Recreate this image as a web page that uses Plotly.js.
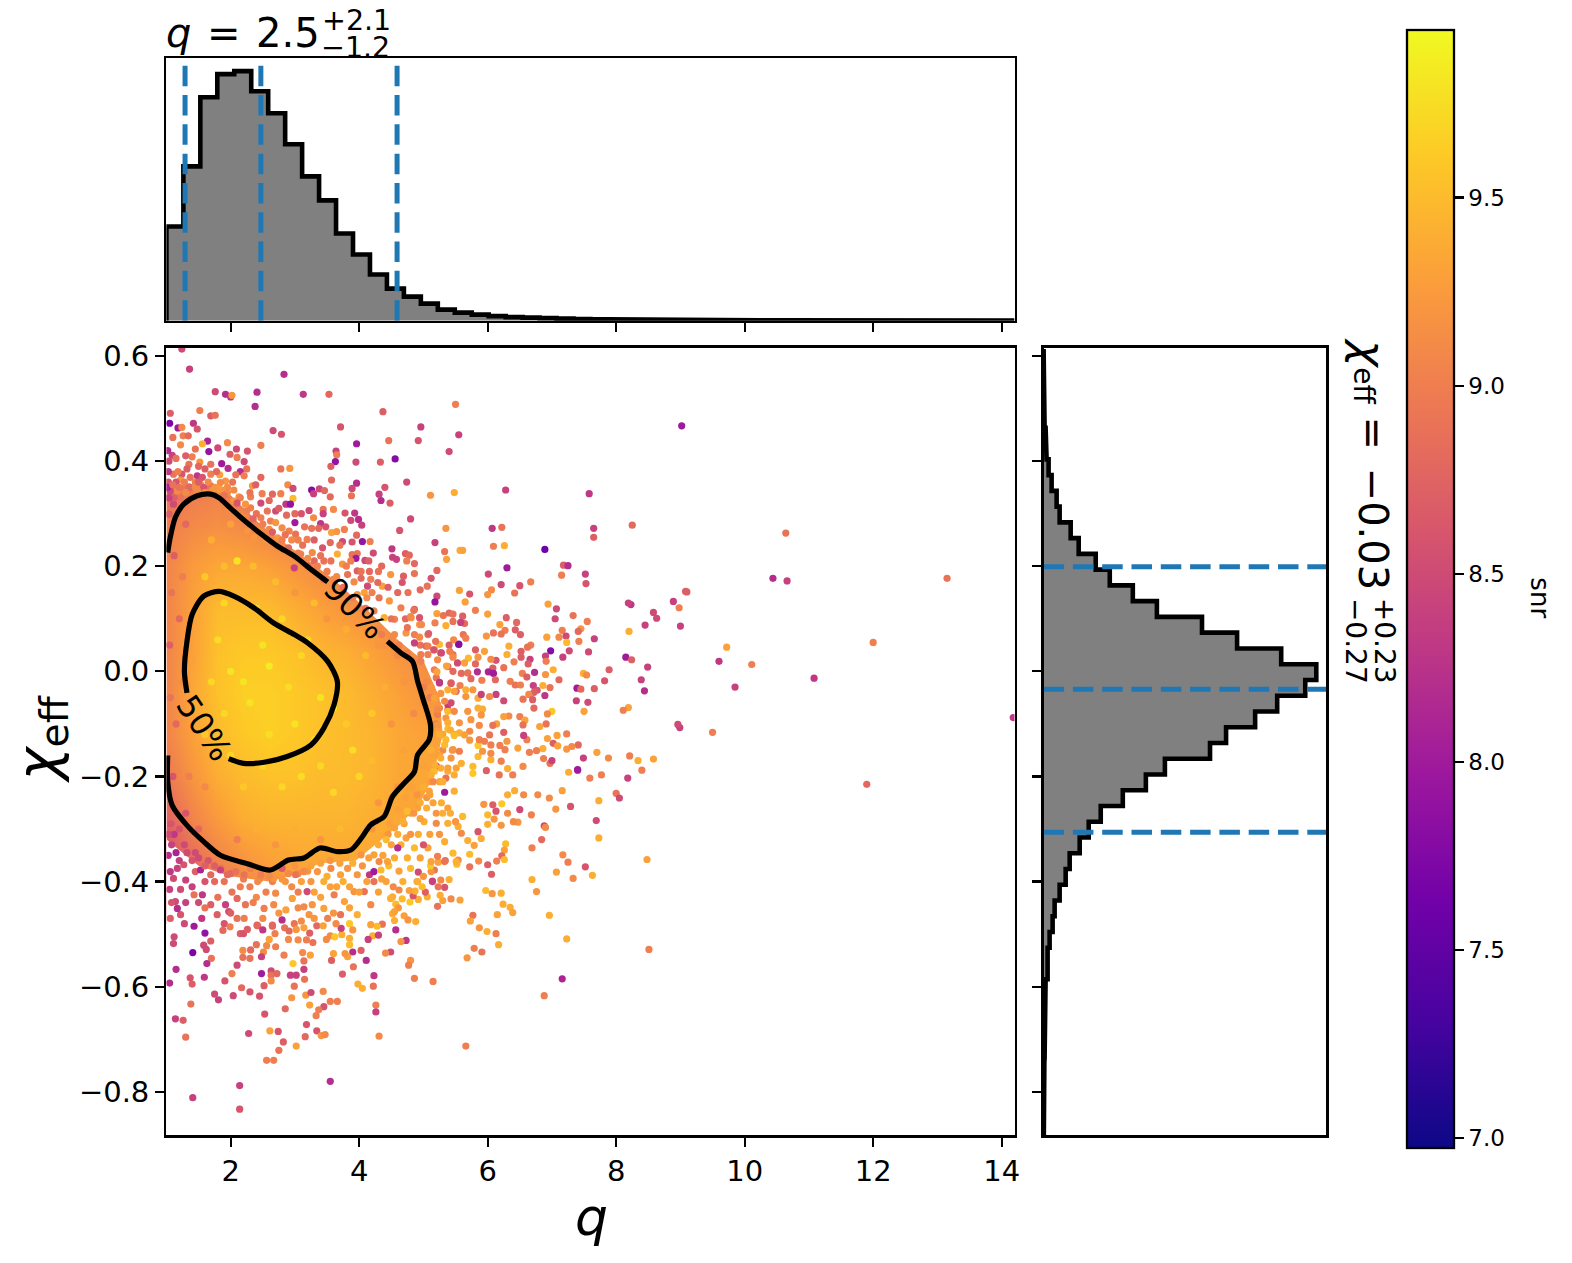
<!DOCTYPE html>
<html><head><meta charset="utf-8">
<script src="https://cdn.plot.ly/plotly-3.0.1.min.js"></script>
<style>html,body{margin:0;padding:0;background:#fff}</style></head>
<body><div id="chart" style="width:1572px;height:1263px"></div>
<script>
// ---- values: [q, chi_eff, snr] ----
const pointsUpperLeft=[[1.24,.613,8.5],[1.36,.575,8.4],[2.83,.565,8.2],[1.76,.532,8.5],[1.92,.527,8.2],[2.0,.522,8.3],[2.02,.525,9.2],[2.41,.531,8.2],[3.13,.527,8.3],[3.53,.527,8.8],[2.38,.504,8.2],[5.5,.508,9.0],[1.06,.491,8.7],[1.52,.496,9.0],[1.69,.486,8.7],[1.76,.487,8.9],[4.37,.494,8.7],[1.05,.472,7.7],[1.42,.472,8.3],[1.18,.463,8.0],[1.24,.464,9.1],[1.48,.461,8.6],[3.71,.465,8.6],[4.96,.465,8.4],[2.66,.458,8.5],[2.79,.451,8.6],[5.55,.45,8.4],[1.26,.448,9.0],[1.1,.445,8.9],[1.34,.448,8.8],[1.64,.438,8.1],[1.56,.433,9.4],[1.95,.435,9.1],[1.22,.431,9.1],[2.47,.43,9.0],[3.96,.433,8.0],[4.46,.439,8.9],[4.92,.439,8.6],[1.45,.423,8.9],[1.66,.418,7.9],[1.8,.425,8.5],[2.09,.423,8.5],[2.26,.419,8.6],[3.64,.419,8.4],[3.65,.412,9.0],[5.4,.418,8.5],[1.09,.411,8.4],[1.4,.408,9.0],[1.99,.413,8.7],[2.1,.407,9.0],[2.21,.399,8.5],[3.63,.399,7.9],[4.56,.404,7.8],[3.95,.398,8.5],[4.33,.398,8.7],[1.52,.398,9.2],[1.35,.394,8.9],[1.69,.394,8.9],[1.86,.395,8.0],[3.56,.39,8.7],[2.78,.385,8.9],[2.92,.386,9.2],[2.25,.385,8.9],[1.96,.386,8.2],[2.15,.38,8.2],[1.11,.375,8.9],[1.24,.375,8.6],[1.48,.372,8.3],[1.69,.375,9.0],[1.83,.374,9.3],[2.21,.372,9.0],[2.08,.374,8.9],[2.47,.369,8.8],[1.22,.364,9.2],[1.37,.369,8.9],[1.56,.369,8.6],[3.57,.364,8.8],[4.74,.36,8.5],[3.96,.358,8.2],[1.92,.362,9.2]];
const pointsUpperMid=[[4.4,.35,8.6],[2.89,.355,9.1],[2.97,.348,8.5],[2.34,.353,9.2],[2.39,.355,8.7],[1.06,.343,8.5],[1.35,.351,8.8],[1.69,.353,8.9],[1.83,.346,9.3],[3.26,.345,7.8],[3.38,.347,8.5],[3.46,.344,8.8],[3.89,.348,8.5],[3.29,.338,8.4],[3.88,.334,8.9],[3.55,.332,8.8],[4.31,.337,8.4],[5.11,.335,9.2],[5.48,.34,9.4],[4.34,.325,8.2],[4.48,.32,8.7],[2.65,.337,8.8],[2.78,.338,9.0],[2.97,.329,9.5],[2.86,.318,8.3],[2.93,.318,7.9],[2.49,.338,9.0],[2.13,.332,9.2],[2.31,.332,9.0],[2.47,.32,8.5],[3.22,.306,8.5],[3.44,.308,8.9],[3.6,.308,9.1],[3.29,.292,9.1],[3.44,.3,8.4],[3.78,.301,8.6],[3.93,.301,8.3],[2.87,.297,8.8],[3.0,.283,8.0],[3.87,.287,8.5],[3.99,.289,8.2],[4.04,.278,8.4],[4.8,.29,8.5],[5.35,.272,9.2],[3.4,.281,8.3],[3.26,.272,8.9],[3.37,.272,8.8],[3.48,.275,8.6],[3.57,.264,9.3],[3.65,.266,9.2],[3.77,.27,9.0],[4.63,.268,8.6],[3.96,.259,8.8],[3.74,.247,8.5],[3.89,.246,8.6],[4.05,.247,7.9],[4.17,.247,9.0],[5.18,.245,8.4],[3.43,.235,8.6],[4.51,.233,8.3],[5.33,.228,8.9],[5.36,.213,9.3],[5.57,.23,9.4],[3.66,.223,9.4],[3.89,.222,8.9],[3.97,.224,8.9],[4.09,.211,8.5],[3.95,.215,8.0],[4.52,.217,8.4],[4.58,.213,8.4],[4.72,.224,8.7],[4.78,.221,8.8],[4.86,.205,8.8],[4.74,.21,9.0],[4.86,.186,8.9],[5.21,.192,8.8],[5.12,.177,8.6],[4.69,.181,8.7],[5.06,.162,8.9],[4.95,.155,8.8],[4.76,.15,8.9],[4.67,.169,8.6],[5.21,.143,8.5],[5.18,.132,7.9],[5.56,.154,9.3]];
const pointsContourTop=[[2.47,.292,9.0],[2.62,.286,9.0],[2.7,.283,9.2],[2.57,.305,8.9],[2.7,.305,8.5],[2.8,.273,9.1],[2.91,.267,9.0],[3.01,.261,8.9],[3.19,.251,9.0],[3.09,.223,9.0],[3.27,.226,9.1],[3.45,.21,8.9],[3.3,.21,8.8],[2.99,.197,8.4],[2.73,.254,9.2],[2.31,.311,9.0],[2.21,.299,9.1],[2.05,.324,9.2],[2.23,.318,9.2],[2.47,.273,9.1],[2.36,.254,9.2],[2.26,.267,9.2],[1.95,.305,9.1],[1.43,.337,9.0],[1.22,.331,8.9],[1.11,.318,8.5],[1.04,.299,8.7],[1.53,.356,9.1],[1.76,.35,9.2],[1.84,.359,9.1],[1.95,.35,9.1],[1.58,.35,8.6],[1.37,.35,8.8],[1.17,.343,9.1],[3.56,.21,8.9],[3.74,.204,9.2],[3.87,.21,9.0],[3.97,.191,8.7],[4.16,.19,8.8],[3.82,.184,8.9],[4.03,.177,8.8],[4.18,.175,9.0],[4.36,.162,9.3],[4.49,.184,9.2],[4.13,.162,8.5],[4.29,.169,8.8],[4.08,.15,9.3],[4.31,.14,8.9],[4.47,.134,9.2],[3.97,.146,9.2],[4.23,.115,9.0],[4.55,.099,9.0],[4.39,.102,9.4],[4.81,.102,9.2],[4.94,.089,9.2],[4.65,.121,9.0],[4.86,.118,8.7],[5.07,.07,9.0],[4.86,.07,9.0],[4.55,.07,9.1],[4.73,.073,9.2],[4.3,.08,9.1],[4.4,.05,9.2],[4.5,.1,8.9],[4.62,.05,9.0],[4.72,.1,8.8],[4.85,.02,9.1],[4.95,.05,8.9],[4.6,.15,8.8],[4.45,.16,8.7],[4.3,.19,8.9],[4.15,.21,8.7],[4.03,.19,8.9],[4.12,.14,9.1],[4.2,.15,9.0],[3.92,.17,9.1],[3.8,.2,9.0],[3.65,.18,9.1],[3.5,.19,9.0],[3.4,.22,8.9],[3.2,.215,9.1],[3.12,.24,8.9],[3.05,.25,9.0],[2.95,.25,9.1],[2.85,.26,8.9],[2.6,.27,9.1],[2.55,.25,9.2],[3.7,.24,8.9],[3.55,.245,8.8],[3.3,.25,8.7],[4.35,.2,8.8],[4.22,.225,8.5],[3.0,.3,8.8],[3.15,.275,8.9],[2.75,.31,8.7],[2.4,.3,8.9],[2.15,.33,9.0],[2.05,.345,9.1],[2.3,.34,8.9],[2.6,.325,8.8],[3.1,.3,8.6]];
const pointsTopLeftEdge=[[1.03,.36,8.6],[1.03,.38,8.3],[1.15,.36,8.6],[1.2,.35,8.9],[1.28,.36,9.0],[1.45,.36,9.0],[1.48,.345,9.1],[1.6,.34,9.2],[1.65,.36,9.1],[1.72,.345,9.2],[1.88,.345,9.2],[1.95,.34,9.1],[2.03,.36,8.9],[1.3,.34,9.1],[1.12,.33,8.7],[1.04,.33,8.4],[1.15,.405,8.9],[1.3,.41,8.7],[1.5,.39,8.8],[1.6,.385,8.7],[1.78,.38,8.8],[1.45,.35,9.1],[1.02,.35,8.1],[1.02,.42,8.2],[1.04,.4,8.5],[1.1,.355,8.9],[1.18,.38,9.0],[1.32,.385,8.7]];
const pointsOutlineEdge=[[1.5,.36,8.7],[1.9,.335,8.9],[2.1,.32,8.6],[2.25,.305,9.0],[2.35,.29,8.8],[2.5,.28,9.0],[2.65,.265,8.7],[2.8,.25,9.0],[2.9,.235,8.8],[3.05,.225,9.0],[3.2,.2,8.8],[3.35,.2,9.0],[3.45,.175,8.9],[3.6,.175,9.1],[3.75,.16,8.9],[3.9,.14,9.0],[4.0,.12,9.1],[4.1,.12,8.9],[4.2,.09,9.2],[4.35,.07,9.0],[4.5,.06,9.1],[4.6,.03,9.1],[4.75,.035,9.0],[4.9,0,9.2],[5.0,-.03,9.0],[5.12,-.03,9.2],[5.25,-.07,9.1],[5.3,-.12,9.3],[5.3,-.15,9.1],[5.2,-.18,9.3],[5.25,-.21,9.3],[5.1,-.21,9.3],[5.05,-.24,9.2],[4.95,-.25,9.4],[4.8,-.27,9.3],[4.7,-.29,9.3],[4.6,-.31,9.4],[4.45,-.31,9.2],[4.3,-.33,9.4],[4.15,-.355,9.3],[4.05,-.37,9.2],[3.9,-.365,9.4],[3.7,-.365,9.3],[3.55,-.36,9.2],[3.4,-.365,9.3],[3.2,-.38,9.2],[3.05,-.385,9.1],[2.8,-.395,9.2],[2.65,-.4,9.0],[2.45,-.395,9.1],[2.2,-.395,9.0],[2.0,-.385,8.8],[1.85,-.375,8.9],[1.65,-.36,8.6],[1.45,-.345,8.5],[1.28,-.33,8.5],[1.12,-.31,8.3],[1.03,-.31,8.5],[1.07,-.29,8.6],[1.2,-.3,8.6]];
const pointsRightUpper=[[6.28,.345,8.4],[7.58,.338,8.3],[8.25,.278,8.8],[7.65,.272,8.4],[7.65,.255,8.7],[6.07,.272,8.3],[6.22,.274,8.9],[5.61,.23,9.3],[6.09,.238,9.0],[6.26,.239,9.4],[6.89,.232,7.6],[6.3,.197,8.0],[6.01,.185,8.5],[7.18,.202,8.7],[7.25,.201,8.2],[7.15,.183,9.0],[7.52,.185,8.4],[7.53,.167,8.6],[6.67,.17,9.0],[6.21,.165,8.5],[6.5,.163,8.6],[6.42,.149,8.9],[9.1,.151,8.7],[6.06,.155,9.1],[6.0,.146,9.2],[5.72,.147,8.6],[5.65,.132,9.3],[6.94,.128,9.3],[7.07,.119,8.5],[8.23,.127,8.3],[8.98,.121,9.0],[5.81,.116,9.0],[6.0,.109,9.3],[7.33,.106,8.9],[7.05,.1,8.5],[7.55,.095,9.0],[8.63,.101,8.5],[6.29,.102,8.7],[6.45,.093,8.8],[6.19,.089,9.3],[6.43,.079,8.7],[6.27,.078,9.0],[8.45,.088,8.4],[9.0,.086,8.4],[7.16,.078,9.0],[7.45,.081,9.2],[7.41,.076,8.8],[8.2,.076,9.4],[6.09,.073,8.9],[5.98,.067,9.2],[6.21,.071,8.9],[6.51,.07,8.7],[6.92,.065,9.3],[7.11,.065,9.1],[7.22,.067,8.5],[7.66,.062,8.4],[7.42,.057,9.0],[7.23,.055,9.5],[6.33,.048,9.4],[6.67,.05,9.0],[6.62,.046,8.9],[6.98,.039,7.8],[7.27,.039,8.5],[7.57,.037,8.5],[5.95,.038,9.3],[6.52,.038,8.7],[6.3,.032,9.4],[6.9,.029,8.4],[7.17,.027,8.4],[8.15,.027,8.0],[8.24,.022,8.7],[5.81,.041,8.7],[6.52,.027,8.7],[6.66,.023,8.4],[5.85,.027,9.2],[5.7,.025,9.5],[6.13,.021,8.6],[6.05,.023,9.1],[6.91,.019,9.0],[6.41,.018,9.0],[6.63,.014,8.7],[5.81,.014,8.8],[5.53,.016,8.5],[6.25,.007,8.9],[6.08,.006,8.7]];
const pointsRightMid=[[6.73,-.002,8.2],[7.02,.003,9.4],[6.9,-.006,9.2],[7.89,.003,8.7],[7.49,-.004,9.4],[7.54,-.007,9.1],[5.84,-.001,8.2],[6.01,-.001,8.1],[6.09,-.004,8.0],[6.54,-.004,9.0],[6.61,-.011,8.7],[5.91,-.017,9.0],[6.12,-.016,8.8],[6.35,-.019,9.0],[6.43,-.026,8.9],[6.51,-.026,9.0],[7.11,-.016,8.8],[7.82,-.018,8.6],[8.39,-.016,8.4],[6.71,-.027,8.4],[6.86,-.027,9.4],[6.97,-.031,8.9],[7.39,-.032,8.0],[7.45,-.034,8.8],[7.66,-.033,8.7],[8.44,-.037,8.2],[6.77,-.036,8.6],[6.89,-.046,8.3],[6.72,-.04,8.7],[6.64,-.044,9.1],[6.55,-.053,8.9],[6.7,-.054,8.7],[6.13,-.044,8.4],[6.03,-.048,9.1],[6.25,-.056,8.5],[7.38,-.056,8.4],[7.56,-.059,8.5],[6.72,-.07,8.8],[8.19,-.069,9.3],[8.11,-.074,9.0],[7.5,-.076,9.3],[7.0,-.076,9.6],[6.93,-.081,9.1],[6.5,-.086,9.0],[6.33,-.085,9.1],[6.25,-.086,9.3],[8.99,-.107,8.4],[6.58,-.093,9.3],[6.55,-.102,8.9],[6.91,-.1,8.9],[6.81,-.105,9.3],[6.14,-.1,9.3],[6.08,-.103,8.9],[6.25,-.116,8.7],[6.3,-.133,9.2],[6.61,-.13,9.0],[6.56,-.122,8.4],[6.93,-.128,9.3],[7.08,-.122,9.3],[7.23,-.119,9.0],[7.02,-.137,8.7],[7.09,-.142,9.3],[7.41,-.14,8.8],[7.31,-.143,9.1],[7.23,-.148,9.2],[6.47,-.146,9.3],[6.86,-.147,9.4],[6.76,-.151,9.0],[6.65,-.154,9.0],[7.7,-.154,9.3],[7.49,-.165,8.4],[7.88,-.165,9.1],[8.21,-.161,9.0],[8.34,-.17,9.4],[8.58,-.167,9.3],[8.4,-.188,9.0],[6.87,-.166,9.0],[6.97,-.175,8.9],[7.0,-.17,8.4],[7.4,-.188,8.1],[7.26,-.192,9.4],[7.59,-.203,9.0],[7.77,-.197,9.0],[8.18,-.203,8.4]];
const pointsFarOut=[[9.02,.467,8.0],[10.64,.263,8.9],[10.44,.177,8.2],[10.66,.172,8.4],[13.15,.177,8.9],[12.0,.055,9.0],[11.08,-.013,8.3],[9.72,.046,9.3],[9.6,.019,8.3],[10.11,.013,9.0],[9.85,-.03,8.4],[8.96,-.101,8.5],[9.5,-.116,9.0],[11.9,-.215,8.8],[14.18,-.088,8.3],[8.19,.13,8.4],[8.58,.112,8.5],[9.08,.152,8.7],[8.89,.133,8.4],[8.49,.008,8.4]];
const pointsLowerRight=[[7.4,-.187,8.0],[7.16,-.227,9.3],[8.0,-.232,8.9],[8.05,-.241,8.5],[7.73,-.246,9.4],[7.29,-.257,8.6],[6.96,-.241,9.1],[7.06,-.262,9.2],[6.78,-.235,9.1],[7.69,-.284,8.5],[7.73,-.317,9.4],[6.5,-.263,8.5],[6.68,-.273,9.0],[6.88,-.294,8.5],[6.9,-.297,9.1],[6.84,-.32,8.8],[6.47,-.287,9.2],[6.4,-.286,9.1],[6.69,-.336,9.0],[6.28,-.328,9.5],[6.26,-.34,9.3],[7.17,-.349,9.1],[7.25,-.363,9.0],[7.52,-.372,8.6],[7.07,-.382,9.3],[7.63,-.388,9.4],[7.33,-.394,9.1],[8.48,-.358,9.3],[6.69,-.396,9.4],[6.76,-.419,9.2],[6.22,-.351,8.8],[6.26,-.358,9.5],[6.14,-.361,9.0],[6.0,-.368,8.7],[5.86,-.361,9.1],[5.72,-.372,8.9],[6.06,-.386,8.7],[5.4,-.396,9.4],[5.97,-.417,9.5],[6.07,-.423,9.2],[6.21,-.422,9.4],[6.24,-.443,9.4],[6.35,-.449,9.4],[6.39,-.459,9.3],[6.96,-.464,9.4],[6.15,-.463,9.3],[5.77,-.464,8.9],[5.73,-.475,9.3],[5.87,-.488,9.2],[5.99,-.495,9.4],[6.13,-.499,9.0],[6.17,-.52,9.4],[7.23,-.509,9.4],[5.79,-.527,9.0],[5.91,-.534,8.9],[5.68,-.545,9.2],[8.51,-.529,9.0],[7.16,-.585,8.1],[6.88,-.617,9.0],[5.15,-.59,9.0],[4.86,-.584,9.0],[4.8,-.55,9.2],[4.77,-.559,9.0],[5.66,-.713,9.0],[4.52,-.461,9.4],[4.7,-.465,9.3],[4.76,-.473,9.2],[4.88,-.476,9.4],[4.55,-.474,9.4],[4.36,-.481,8.9],[4.57,-.492,8.2],[4.73,-.512,8.3],[4.65,-.514,9.2],[4.49,-.534,8.5],[4.41,-.536,9.1]];
const pointsFringeLowerRight=[[5.22,-.447,8.9],[5.43,-.433,9.1],[5.57,-.435,9.3],[5.3,-.436,9.3],[5.26,-.426,9.4],[5.06,-.429,9.4],[4.92,-.434,9.4],[4.79,-.439,9.6],[4.67,-.433,9.5],[4.57,-.443,9.5],[4.52,-.429,9.4],[4.61,-.45,9.2],[5.03,-.42,8.7],[4.84,-.427,8.6],[4.87,-.418,9.4],[4.78,-.417,9.3],[4.62,-.416,9.1],[4.68,-.4,9.4],[4.9,-.4,9.3],[5.14,-.399,8.6],[5.33,-.411,8.6],[5.23,-.41,8.9],[5.27,-.397,9.1],[4.92,-.382,8.5],[5.0,-.39,9.2],[5.17,-.378,8.9],[5.12,-.381,9.2],[5.11,-.37,9.6],[5.34,-.36,8.8],[5.54,-.359,9.1],[5.52,-.367,9.5],[5.23,-.363,9.3],[5.46,-.346,9.5],[5.72,-.348,9.5],[5.79,-.331,9.3],[5.22,-.352,9.0],[5.12,-.362,9.3],[5.69,-.322,9.4],[5.59,-.308,9.1],[5.85,-.305,8.6],[5.9,-.318,9.4],[5.54,-.295,9.4],[5.61,-.276,9.5],[6.0,-.291,9.4],[6.21,-.293,9.2],[6.0,-.273,9.5],[6.1,-.281,9.2],[6.13,-.266,8.6],[6.31,-.27,9.1],[6.08,-.254,8.7],[6.22,-.252,9.6],[5.94,-.253,9.2],[6.31,-.235,9.4],[6.56,-.235,9.1],[6.42,-.227,9.4],[5.5,-.286,9.2],[5.38,-.289,9.4],[5.07,-.336,9.3],[5.33,-.362,8.9],[5.51,-.362,9.4],[4.73,-.317,9.3],[4.86,-.336,9.5],[5.33,-.324,9.4],[5.2,-.289,9.1],[5.33,-.23,8.0],[5.2,-.181,8.0],[5.38,-.19,9.4],[5.38,-.26,9.3],[5.01,-.286,9.4],[4.91,-.26,9.3],[4.75,-.266,9.5],[4.55,-.298,9.3],[4.6,-.263,9.3],[5.09,-.228,9.3],[5.17,-.19,9.5],[5.27,-.184,9.4],[5.35,-.203,8.9],[5.51,-.184,9.3],[5.48,-.228,9.4],[5.17,-.158,9.3],[5.33,-.14,9.5],[5.48,-.12,9.3],[5.38,-.11,9.5],[5.25,-.12,9.4],[5.35,-.089,9.2],[5.22,-.082,9.0],[5.38,-.073,8.8],[5.22,-.063,9.2],[5.51,-.038,8.8],[5.38,-.063,8.3],[5.25,-.022,8.4],[5.43,-.022,8.9],[5.17,.003,9.0],[5.2,-.012,8.9],[5.38,.009,8.8],[4.96,.019,9.0],[5.04,.048,8.8],[5.17,.041,9.1],[5.27,.035,8.5],[5.46,.032,8.9],[5.55,.052,7.9],[4.86,.054,8.4],[4.45,-.26,9.4],[4.5,-.24,9.3],[4.62,-.23,9.4],[4.72,-.24,9.3],[4.82,-.22,9.3],[4.9,-.235,9.2],[5.0,-.22,9.4],[5.1,-.235,9.3],[5.15,-.25,9.3],[5.05,-.26,9.4],[5.2,-.27,9.2],[4.95,-.28,9.3],[4.85,-.27,9.2],[4.68,-.285,9.4],[4.48,-.29,9.3],[4.38,-.3,9.4],[4.42,-.32,9.5],[4.5,-.33,9.3],[4.65,-.33,9.4],[4.8,-.31,9.2],[4.92,-.31,9.4],[5.0,-.33,8.6],[5.1,-.31,9.3],[5.25,-.31,9.2],[5.3,-.27,9.4],[4.37,-.35,9.3],[4.46,-.37,9.5],[4.55,-.355,9.4],[4.62,-.38,9.3],[4.42,-.4,9.3],[4.8,-.375,9.5],[4.95,-.355,9.3],[4.98,-.41,9.5],[4.53,-.41,9.1],[4.3,-.42,9.3],[4.35,-.395,9.3],[5.05,-.02,9.1],[5.1,-.05,9.0],[5.12,-.09,9.3],[5.2,-.1,9.0],[5.25,-.16,9.3],[5.12,-.15,9.4],[5.15,-.21,9.1],[5.3,-.21,9.4],[5.28,-.25,9.4],[5.42,-.27,9.4],[5.45,-.15,9.2],[5.0,-.18,9.3]];
const pointsFringeRight=[[4.85,.116,8.9],[4.8,.104,9.1],[4.94,.102,8.6],[5.21,.11,9.3],[5.31,.106,8.9],[5.4,.111,8.8],[5.46,.109,8.9],[5.35,.087,9.4],[5.18,.092,9.0],[4.97,.089,9.1],[5.46,.095,8.9],[5.61,.105,8.7],[5.64,.091,8.8],[5.58,.093,8.4],[5.08,.072,8.7],[4.94,.065,9.1],[4.75,.083,8.9],[5.62,.07,8.9],[5.66,.063,9.0],[5.47,.06,9.1],[5.4,.05,8.7],[5.55,.051,7.8],[5.25,.051,9.5],[5.19,.057,8.9],[5.07,.048,9.0],[5.28,.035,8.5],[5.16,.041,8.6],[5.41,.038,9.0],[5.46,.027,9.1],[4.96,.032,9.0],[5.07,.032,9.0],[5.22,.022,9.1],[5.36,.01,9.3],[5.46,0,8.8],[5.59,-.004,8.8],[5.64,.016,9.3],[5.69,-.003,8.9],[5.74,-.014,8.8],[5.57,-.027,9.0],[5.43,-.023,8.7],[5.25,-.021,8.3],[5.21,-.001,9.3],[5.38,-.035,9.4],[5.27,-.042,9.2],[5.17,-.051,9.3],[5.48,-.038,9.3],[5.66,-.035,9.4],[5.77,-.035,9.2],[5.85,-.051,9.4],[5.9,-.044,8.4],[5.66,-.048,9.2],[5.43,-.06,8.5],[5.33,-.057,9.1],[5.22,-.073,9.1],[5.38,-.076,9.5],[5.48,-.076,9.1],[5.69,-.076,9.2],[5.85,-.07,9.4],[5.92,-.072,9.4],[5.9,-.083,9.2],[5.74,-.092,9.2],[5.56,-.098,9.2],[5.87,-.103,9.1],[5.38,-.098,9.4],[5.22,-.102,9.2],[5.42,-.112,9.4],[5.56,-.117,9.4],[5.72,-.114,9.1],[5.48,-.122,9.5],[5.64,-.121,9.3],[5.35,-.13,9.5],[5.72,-.131,9.2],[5.85,-.141,9.6],[5.87,-.13,9.0],[6.03,-.121,8.9],[5.95,-.133,9.0],[6.05,-.14,9.0],[5.46,-.149,9.2],[5.56,-.152,9.0],[5.85,-.162,9.5],[5.77,-.181,9.5],[5.77,-.194,9.6],[5.98,-.189,8.7],[6.18,-.197,8.9],[6.31,-.185,9.4],[6.39,-.197,9.0],[6.05,-.168,9.4],[6.21,-.171,9.0],[6.55,-.181,9.1],[5.92,-.152,9.2],[6.05,-.156,9.1],[6.27,-.149,9.0],[6.19,-.141,9.0],[5.27,-.165,9.4],[5.43,-.165,9.2],[5.59,-.175,9.4],[5.18,-.178,9.4],[5.38,-.184,9.3],[5.12,-.197,9.4],[5.48,-.197,9.4]];
const pointsBelowContour=[[1.06,-.381,8.3],[1.17,-.375,8.4],[1.27,-.368,8.6],[1.11,-.394,8.5],[1.3,-.397,8.4],[1.45,-.381,8.7],[1.53,-.378,8.1],[1.69,-.387,8.8],[1.84,-.378,8.4],[1.95,-.387,8.8],[2.08,-.381,8.9],[2.21,-.387,8.9],[2.31,-.375,9.0],[2.47,-.387,9.0],[2.67,-.394,9.2],[2.8,-.375,8.7],[3.01,-.387,8.9],[3.19,-.419,8.5],[3.14,-.381,9.1],[3.35,-.381,9.2],[3.45,-.4,9.4],[3.56,-.375,9.1],[3.71,-.387,9.3],[3.82,-.375,9.2],[3.97,-.387,9.2],[4.16,-.387,8.3],[4.23,-.381,8.0],[4.34,-.378,9.5],[4.31,-.362,9.1],[4.03,-.349,9.2],[4.23,-.349,9.3],[4.44,-.362,9.3],[4.6,-.336,8.2],[4.75,-.355,9.4],[4.91,-.4,9.4],[5.14,-.4,8.4],[1.14,-.438,8.5],[1.22,-.463,8.6],[1.17,-.451,8.2],[1.43,-.425,8.9],[1.56,-.425,8.3],[1.69,-.444,8.7],[1.92,-.444,8.4],[1.97,-.457,8.5],[2.1,-.432,8.8],[2.23,-.444,8.9],[1.79,-.463,8.7],[2.21,-.47,9.0],[2.41,-.483,8.7],[2.52,-.451,9.0],[2.67,-.444,9.1],[2.7,-.422,9.1],[2.96,-.432,9.3],[2.86,-.454,9.3],[3.14,-.448,9.1],[3.27,-.444,9.2],[3.45,-.451,9.3],[3.61,-.425,9.0],[3.77,-.438,9.3],[3.92,-.419,9.2],[3.97,-.463,9.4],[4.08,-.419,8.9],[4.23,-.4,8.9],[4.18,-.444,9.1],[4.49,-.432,9.4],[4.55,-.457,9.3],[3.71,-.463,8.9],[3.51,-.47,9.0],[3.22,-.463,9.2],[2.99,-.48,8.9],[2.8,-.473,8.2],[2.65,-.485,8.7],[1.06,-.47,8.7],[1.03,-.35,8.2],[1.08,-.33,8.4],[1.15,-.345,8.1],[1.2,-.36,8.4],[1.32,-.345,8.5],[1.4,-.36,8.6],[1.5,-.355,8.5],[1.6,-.37,8.7],[1.75,-.37,8.7],[1.9,-.4,8.9],[1.75,-.4,8.8],[1.6,-.4,8.6],[1.4,-.41,8.4],[1.22,-.415,8.5],[1.05,-.415,8.4],[1.08,-.44,8.6],[1.3,-.44,8.4],[1.5,-.44,8.5],[1.6,-.45,8.9],[1.8,-.43,8.9],[2.02,-.42,8.9],[2.15,-.41,9.0],[2.3,-.41,9.0],[2.42,-.4,9.1],[2.55,-.42,9.0],[2.4,-.43,9.1],[2.6,-.39,9.1],[2.85,-.4,9.2],[2.95,-.41,9.1],[3.05,-.42,9.0],[3.1,-.4,9.3],[3.25,-.4,9.2],[3.3,-.42,9.3],[3.4,-.43,9.3],[3.55,-.41,9.3],[3.65,-.41,9.3],[3.75,-.4,9.4],[3.85,-.41,9.3],[4.0,-.42,9.3],[4.12,-.4,9.3],[3.5,-.39,9.4],[3.25,-.37,9.3],[3.0,-.37,9.2],[2.9,-.385,9.1],[2.35,-.44,9.0],[2.0,-.46,8.7],[2.1,-.47,8.9],[2.5,-.47,9.1],[3.05,-.45,9.1],[3.3,-.47,9.2],[3.6,-.46,9.2],[3.85,-.45,9.3],[3.1,-.475,9.1],[1.28,-.48,8.5],[1.55,-.47,8.3],[1.9,-.48,8.6],[2.75,-.46,9.2]];
const pointsLowerLeft=[[1.43,-.485,8.0],[1.6,-.498,7.9],[1.12,-.505,8.5],[1.11,-.518,8.5],[1.69,-.513,8.7],[1.58,-.521,8.5],[1.62,-.529,8.5],[1.41,-.535,7.7],[1.7,-.546,8.9],[1.63,-.556,8.2],[1.15,-.567,8.2],[1.37,-.583,8.6],[1.4,-.595,8.7],[1.59,-.582,8.3],[1.05,-.593,8.2],[1.91,-.589,8.6],[2.1,-.559,8.5],[2.02,-.575,9.0],[1.75,-.614,8.5],[1.81,-.625,8.4],[2.04,-.617,8.5],[2.17,-.602,8.8],[2.3,-.61,8.6],[2.45,-.618,8.6],[2.52,-.598,8.7],[2.48,-.575,8.0],[2.63,-.57,8.5],[2.63,-.578,8.9],[2.63,-.589,9.1],[2.72,-.575,8.8],[2.93,-.578,8.4],[3.02,-.578,8.4],[3.14,-.567,8.4],[3.15,-.586,8.9],[2.99,-.599,8.9],[2.95,-.621,9.2],[3.17,-.616,9.2],[3.25,-.611,8.5],[3.44,-.609,9.1],[3.23,-.635,9.3],[3.55,-.628,9.0],[3.66,-.628,9.0],[3.45,-.638,8.6],[3.37,-.644,9.0],[3.33,-.655,9.0],[2.85,-.642,8.8],[2.53,-.652,8.6],[1.38,-.633,8.9],[1.14,-.661,8.4],[1.26,-.664,8.7],[1.3,-.696,8.9],[2.28,-.689,8.5],[2.61,-.684,9.3],[2.74,-.685,8.6],[3.18,-.672,8.6],[3.34,-.684,8.6],[3.41,-.693,9.2],[3.47,-.691,9.1],[3.16,-.695,8.8],[2.82,-.705,8.7],[3.02,-.713,9.3],[2.75,-.721,8.9],[2.56,-.74,9.0],[2.67,-.74,9.0],[4.31,-.694,9.1],[4.26,-.635,9.0],[4.26,-.648,8.4],[4.23,-.579,8.3],[4.22,-.599,8.9],[3.74,-.576,8.7],[3.91,-.562,8.9],[4.11,-.55,8.2],[3.98,-.595,9.4],[4.05,-.603,9.4],[3.55,-.78,8.2],[2.14,-.788,8.4],[1.41,-.811,8.4],[2.14,-.833,8.6],[3.02,-.89,8.4]];
const pointsLowerMid=[[4.03,-.531,8.7],[3.9,-.534,8.2],[3.82,-.543,9.3],[3.78,-.537,9.2],[3.57,-.55,8.7],[3.6,-.537,9.3],[3.24,-.54,9.3],[3.14,-.551,8.9],[3.12,-.535,9.1],[2.97,-.556,9.6],[2.83,-.54,9.0],[2.51,-.534,9.1],[2.48,-.543,8.4],[2.3,-.546,8.9],[2.19,-.544,8.9],[2.19,-.531,9.1],[2.31,-.53,8.8],[2.4,-.52,8.9],[2.7,-.524,9.0],[2.56,-.522,9.1],[2.6,-.51,9.3],[2.69,-.499,9.0],[2.9,-.51,9.1],[3.05,-.511,9.1],[3.18,-.511,9.0],[3.28,-.516,8.9],[3.23,-.498,8.7],[3.49,-.51,9.1],[3.55,-.503,9.1],[3.62,-.505,9.6],[3.73,-.501,9.4],[3.85,-.508,9.4],[3.85,-.52,9.5],[3.72,-.489,8.4],[3.85,-.48,9.6],[3.9,-.492,9.2],[4.21,-.503,9.4],[4.3,-.502,8.4],[4.14,-.51,8.4],[4.28,-.485,9.5],[4.18,-.482,9.3],[1.88,-.493,8.8],[1.99,-.486,9.0],[2.15,-.499,8.7],[2.2,-.499,8.6],[2.26,-.491,8.7],[2.42,-.484,8.8],[2.5,-.492,8.3],[2.65,-.483,8.8],[2.84,-.488,8.9],[2.91,-.494,8.8],[3.02,-.491,9.2],[3.14,-.488,9.3],[3.34,-.484,8.8],[3.44,-.484,9.3],[3.64,-.48,9.1]];
const pointsCoreSpeckle=[[2.5,.05,9.8],[2.2,-.02,9.8],[1.8,.06,9.75],[2.0,0,9.8],[2.9,-.03,9.75],[3.0,-.1,9.8],[2.6,-.12,9.75],[2.3,-.06,9.8],[1.7,-.02,9.7],[3.4,-.05,9.8],[3.6,-.07,9.85],[2.8,.1,9.7],[2.4,.12,9.75],[1.9,.13,9.7],[2.1,.21,9.8],[3.2,.06,9.7],[3.3,-.13,9.75],[3.9,-.15,9.75],[4.0,-.2,9.7],[3.1,-.2,9.75],[2.8,-.22,9.7],[3.6,-.23,9.7],[1.6,-.12,9.6],[2.0,-.16,9.7],[1.6,.18,9.6],[1.9,.2,9.5],[4.3,-.25,9.2],[4.5,-.1,9.2],[4.7,-.15,9.3],[1.2,.1,8.8],[1.15,-.1,8.8],[1.1,-.2,8.6],[1.3,-.27,8.6],[1.5,-.3,8.8],[1.12,.22,8.7],[1.3,.28,8.8],[1.6,.28,9.1],[2.0,.28,9.3],[1.4,.02,9.3],[1.5,-.15,9.3],[1.8,-.25,9.3],[2.4,-.3,9.4],[3.0,-.3,9.4],[3.7,-.3,9.5],[4.2,-.17,9.5],[4.4,-.03,9.4],[4.1,.03,9.5],[3.8,.08,9.4],[3.3,.13,9.5],[1.05,.05,8.7],[1.08,.15,8.9],[1.06,-.05,8.9],[1.25,-.02,9.1],[1.25,.18,9.0],[1.35,-.2,9.0],[1.7,.25,9.4],[2.35,.2,9.5],[2.7,.17,9.5],[3.0,.15,9.2],[3.5,.1,9.2],[4.3,.05,9.2],[4.7,-.02,9.2],[4.85,-.08,9.1],[4.6,-.22,9.2],[4.2,-.3,9.2],[3.4,-.32,9.2],[2.7,-.33,9.2],[2.1,-.32,9.0],[1.6,-.22,9.1],[2.2,-.22,9.6],[3.4,-.18,9.7],[3.8,-.1,9.6],[4.2,-.08,9.6],[2.5,-.18,9.7],[1.9,-.08,9.7],[2.6,.01,9.85],[3.1,.03,9.7]];
// smooth backing of the dense core: snr on a coarse grid, cut to coreOutline
const coreQ=[1.0,1.4,1.8,2.2,2.6,3.0,3.4,3.8,4.2,4.6,5.0,5.4];
const coreChi=[-0.44,-0.36,-0.28,-0.20,-0.12,-0.04,0.04,0.12,0.20,0.28,0.36];
const coreSnr=[
[8.6,8.7,8.8,9.0,9.1,9.1,9.2,9.2,9.3,9.3,9.3,9.3],
[8.6,8.85,9.05,9.2,9.3,9.35,9.35,9.35,9.35,9.35,9.3,9.3],
[8.75,9.05,9.25,9.4,9.45,9.45,9.45,9.45,9.4,9.35,9.3,9.3],
[8.95,9.2,9.4,9.5,9.55,9.55,9.5,9.5,9.45,9.35,9.35,9.3],
[9.05,9.3,9.5,9.6,9.65,9.6,9.55,9.5,9.45,9.35,9.3,9.3],
[9.05,9.35,9.55,9.65,9.65,9.6,9.55,9.5,9.4,9.3,9.2,9.2],
[9.05,9.3,9.55,9.6,9.6,9.55,9.45,9.4,9.3,9.2,9.1,9.1],
[9.05,9.3,9.5,9.5,9.5,9.4,9.3,9.2,9.1,9.0,9.0,9.0],
[9.05,9.25,9.35,9.35,9.3,9.2,9.1,9.0,8.9,8.9,8.9,8.9],
[9.0,9.1,9.15,9.1,9.0,8.9,8.9,8.9,8.8,8.8,8.8,8.8],
[8.85,8.95,9.0,8.9,8.8,8.8,8.8,8.8,8.8,8.8,8.8,8.8]];
const coreOutline=[[1,.35],[1.3,.355],[1.7,.355],[2.0,.335],[2.5,.275],[3.0,.23],[3.6,.175],[4.1,.12],[4.6,.06],[5.0,.02],[5.25,-.05],[5.3,-.12],[5.15,-.2],[4.95,-.25],[4.65,-.29],[4.25,-.33],[3.95,-.36],[3.4,-.365],[2.9,-.39],[2.6,-.4],[2.0,-.39],[1.5,-.37],[1,-.32]];
const contour90A=[[1.02,.226],[1.06,.255],[1.14,.293],[1.27,.318],[1.48,.334],[1.69,.337],[1.82,.33],[2.0,.31],[2.26,.282],[2.52,.257],[2.73,.238],[2.99,.219],[3.25,.194],[3.51,.17]];
const contour90B=[[4.44,.057],[4.65,.035],[4.83,.019],[4.91,-.019],[4.99,-.051],[5.11,-.102],[5.09,-.13],[4.91,-.159],[4.86,-.191],[4.7,-.213],[4.52,-.238],[4.39,-.276],[4.18,-.292],[4.03,-.318],[3.87,-.34],[3.66,-.343],[3.39,-.336],[3.14,-.355],[2.9,-.359],[2.62,-.378],[2.26,-.366],[1.84,-.35],[1.58,-.324],[1.32,-.293],[1.09,-.255],[1.02,-.21],[1.02,-.16]];
const contour50=[[1.32,-.041],[1.28,0],[1.32,.057],[1.4,.108],[1.58,.143],[1.82,.152],[2.05,.143],[2.36,.121],[2.67,.092],[2.99,.07],[3.2,.054],[3.51,.019],[3.66,-.019],[3.61,-.063],[3.45,-.108],[3.25,-.14],[2.88,-.162],[2.52,-.173],[2.2,-.175],[1.97,-.166]];
const qBinStart=1, qBinWidth=0.264;
const qHist=[94,154,223,246,249,229,207,176,144,120,87,66,46,32,24,17,11,8,6,4.5,3.5,3,2.5,2,1.7,1.4,1.2,1,.9,.8,.7,.6,.5,.5,.4,.4,.3,.3,.3,.2,.2,.2,.2,.1,.1,.1,.1,.1,.1,.1];
const chiBinStart=0.613, chiBinWidth=0.02997;
const chiHist=[0,.2,.5,.7,1,2,3,5,8,13,16,27,35,52,66,89,113,158,193,237,272,261,233,211,182,166,121,102,79,57,45,36,26,22,16,11,9,6,4,4,2,2,1.5,1,1,.8,.5,.4,.2,.2];
const qQuantiles=[1.29,2.47,4.59];
const chiQuantiles=[0.199,-0.034,-0.306];
const xTicks=[2,4,6,8,10,12,14];
const yTicks=[-0.8,-0.6,-0.4,-0.2,0,0.2,0.4,0.6];
const cbarTicks=[7,7.5,8,8.5,9,9.5];
const plasma=[[0,'#0d0887'],[.111,'#46039f'],[.222,'#7201a8'],[.333,'#9c179e'],[.444,'#bd3786'],[.556,'#d8576b'],[.667,'#ed7953'],[.778,'#fb9f3a'],[.889,'#fdca26'],[1,'#f0f921']];

// ---- layout helpers ----
const W=1572,H=1263,F='"DejaVu Sans"';
const px=x=>x/W*1.0025, py=y=>1-y/H*1.002;
const xR=[1,14.2], yR=[-0.8826,0.6157];
const allPts=[].concat(pointsUpperLeft,pointsUpperMid,pointsContourTop,pointsTopLeftEdge,pointsOutlineEdge,pointsRightUpper,pointsRightMid,pointsFarOut,pointsLowerRight,pointsFringeLowerRight,pointsFringeRight,pointsBelowContour,pointsLowerLeft,pointsLowerMid,pointsCoreSpeckle);
const blue='#1f77b4', dash='20.5px,8.8px';
function stepsTop(){const x=[qBinStart],y=[0];qHist.forEach((v,i)=>{x.push(qBinStart+i*qBinWidth,qBinStart+(i+1)*qBinWidth);y.push(v,v)});x.push(qBinStart+qHist.length*qBinWidth);y.push(0);return{x,y}}
function stepsRight(){const x=[0],y=[chiBinStart];chiHist.forEach((v,i)=>{y.push(chiBinStart-i*chiBinWidth,chiBinStart-(i+1)*chiBinWidth);x.push(v,v)});y.push(chiBinStart-chiHist.length*chiBinWidth);x.push(0);return{x,y}}
const st=stepsTop(), sr=stepsRight();
const line=pts=>({type:'scatter',mode:'lines',x:pts.map(p=>p[0]),y:pts.map(p=>p[1]),line:{color:'#000',width:5.2,shape:'spline',smoothing:.8},hoverinfo:'skip',showlegend:false});
// white sheet with a hole in the shape of the core: outer frame, then the outline walked the other way round
const sheet=[[xR[0],yR[1]],[xR[1],yR[1]],[xR[1],yR[0]],[xR[0],yR[0]],[xR[0],yR[1]]].concat(coreOutline.slice().reverse(),[[xR[0],coreOutline[0][1]],[xR[0],yR[1]]]);
const traces=[
 {type:'heatmap',x:coreQ,y:coreChi,z:coreSnr,coloraxis:'coloraxis',zsmooth:'best',hoverinfo:'skip'},
 {type:'scatter',mode:'lines',x:sheet.map(p=>p[0]),y:sheet.map(p=>p[1]),fill:'toself',fillcolor:'#fff',line:{width:0,color:'#fff'},hoverinfo:'skip',showlegend:false},
 {type:'scatter',mode:'markers',x:allPts.map(p=>p[0]),y:allPts.map(p=>p[1]),marker:{size:7.2,color:allPts.map(p=>p[2]),coloraxis:'coloraxis'},hoverinfo:'skip',showlegend:false},
 line(contour90A),line(contour90B),line(contour50),
 {type:'scatter',mode:'lines',x:st.x,y:st.y,xaxis:'x2',yaxis:'y2',fill:'tozeroy',fillcolor:'#808080',line:{color:'#000',width:4.6},hoverinfo:'skip',showlegend:false},
 {type:'scatter',mode:'lines',x:sr.x,y:sr.y,xaxis:'x3',yaxis:'y3',fill:'tozerox',fillcolor:'#808080',line:{color:'#000',width:4.6},hoverinfo:'skip',showlegend:false}
];
qQuantiles.forEach(q=>traces.push({type:'scatter',mode:'lines',x:[q,q],y:[0,262],xaxis:'x2',yaxis:'y2',line:{color:blue,width:5,dash:dash},hoverinfo:'skip',showlegend:false}));
chiQuantiles.forEach(c=>traces.push({type:'scatter',mode:'lines',x:[0,282],y:[c,c],xaxis:'x3',yaxis:'y3',line:{color:blue,width:5,dash:dash},hoverinfo:'skip',showlegend:false}));
const axis=o=>Object.assign({showgrid:false,zeroline:false,showline:true,mirror:true,linecolor:'#000',linewidth:2.3,ticks:'outside',ticklen:9,tickwidth:2.3,tickcolor:'#000',tickfont:{family:F,size:29,color:'#000'}},o);
const txt=(x,y,text,size,angle)=>({xref:'paper',yref:'paper',x:px(x),y:py(y),text:text,showarrow:false,xanchor:'center',yanchor:'middle',textangle:angle||0,font:{family:F,size:size,color:'#000'}});
const layout={width:W,height:H,margin:{l:0,r:0,t:0,b:0},paper_bgcolor:'#fff',plot_bgcolor:'#fff',showlegend:false,
 xaxis:axis({domain:[px(166),px(1012)],range:xR,tickvals:xTicks,anchor:'y'}),
 yaxis:axis({domain:[py(1133),py(347)],range:yR,tickvals:yTicks,tickformat:'.1f',anchor:'x'}),
 xaxis2:axis({domain:[px(166),px(1012)],range:xR,tickvals:xTicks,showticklabels:false,anchor:'y2'}),
 yaxis2:axis({domain:[py(320),py(58)],range:[0,262],ticks:'',showticklabels:false,anchor:'x2'}),
 xaxis3:axis({domain:[px(1041),px(1323)],range:[0,282],ticks:'',showticklabels:false,anchor:'y3'}),
 yaxis3:axis({domain:[py(1133),py(347)],range:yR,tickvals:yTicks,showticklabels:false,anchor:'x3'}),
 coloraxis:{cmin:6.973,cmax:9.945,colorscale:plasma,colorbar:{x:px(1403),xanchor:'left',xpad:0,y:py(588),yanchor:'middle',ypad:0,len:1118,lenmode:'pixels',thickness:47,thicknessmode:'pixels',outlinewidth:2.3,outlinecolor:'#000',tickvals:cbarTicks,tickformat:'.1f',tickprefix:'\u00a0',ticks:'outside',ticklen:9,tickwidth:2.3,tickcolor:'#000',tickfont:{family:F,size:23,color:'#000'}}},
 annotations:[
  txt(590,1215,'<i>q</i>',52),
  txt(41,738,'<i>χ</i><sub>eff</sub>',56,-90),
  txt(178,33,'<i>q</i>',40),
  txt(223,33,'=',40),
  txt(287,33,'2.5',40),
  txt(356,20,'+2.1',28.5),
  txt(355,47,'−1.2',28.5),
  txt(1366,353,'<i>χ</i>',45,90),
  txt(1360,385,'eff',28,90),
  txt(1370,433,'=',40,90),
  txt(1370,528,'−0.03',40,90),
  txt(1381,640,'+0.23',28,90),
  txt(1352,640,'−0.27',28,90),
  txt(1536,597,'snr',26,90),
  {xref:'x',yref:'y',x:3.92,y:.12,text:'90%',showarrow:false,textangle:45,font:{family:F,size:32,color:'#000'}},
  {xref:'x',yref:'y',x:1.59,y:-.107,text:'50%',showarrow:false,textangle:56,font:{family:F,size:32,color:'#000'}}
 ]};
Plotly.newPlot('chart',traces,layout,{displayModeBar:false,staticPlot:true});
</script></body></html>
